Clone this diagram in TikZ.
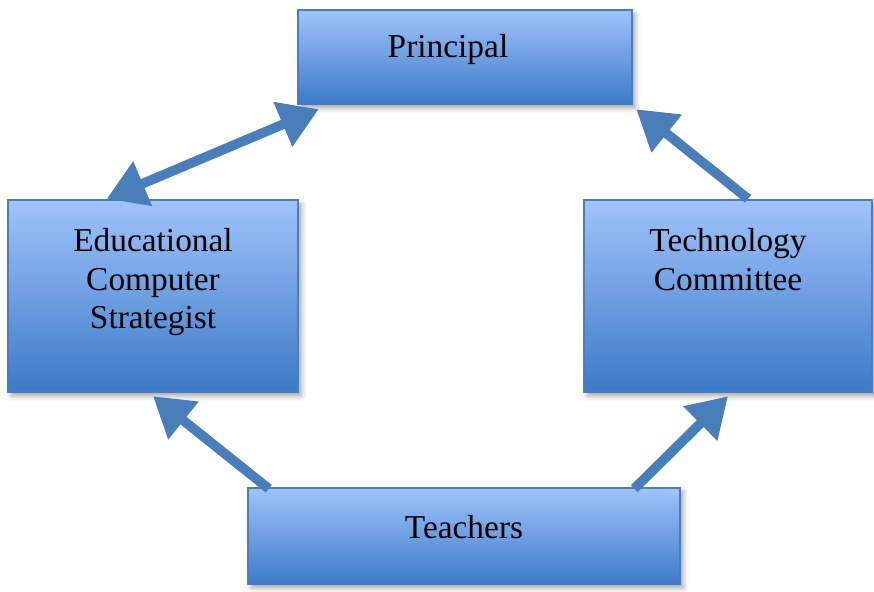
\documentclass[tikz,border=0pt]{standalone}
\usepackage{fontspec}
\setmainfont{Liberation Serif}
\usepackage{tikz}
\usetikzlibrary{arrows.meta,shadows.blur}
\definecolor{boxtop}{RGB}{160,195,250}
\definecolor{boxbot}{RGB}{60,122,200}
\definecolor{boxline}{RGB}{74,126,187}
\definecolor{arrowblue}{RGB}{74,126,187}

\begin{document}
\begin{tikzpicture}[
  box/.style={draw=boxline, line width=1.4pt, top color=boxtop, bottom color=boxbot,
    minimum width=#1, inner sep=0pt,
    blur shadow={shadow xshift=0.07cm, shadow yshift=-0.08cm, shadow blur radius=0.1cm, shadow opacity=35}},
  txt/.style={anchor=base, align=center, inner sep=0pt, font=\fontsize{19}{21.9}\selectfont},
  conn/.style={arrowblue, line width=5.5pt, -{Triangle[length=0.78cm,width=0.92cm]}},
  biconn/.style={arrowblue, line width=5.5pt, {Triangle[length=0.78cm,width=0.92cm]}-{Triangle[length=0.78cm,width=0.92cm]}}
]
\useasboundingbox (0,0) rectangle (17.48,11.84);

% boxes
\node[box=6.68cm, minimum height=1.88cm] (principal) at (9.30,10.70) {};
\node[box=5.80cm, minimum height=3.84cm] (ecs) at (3.06,5.92) {};
\node[box=5.76cm, minimum height=3.84cm] (tc) at (14.56,5.92) {};
\node[box=8.64cm, minimum height=1.92cm] (teachers) at (9.28,1.12) {};

% labels (base sits on the last line)
\node[txt] (principaltxt) at ([xshift=-0.34cm, yshift=-0.98cm]principal.north) {Principal};
\node[txt] (ecstxt) at ([yshift=-2.60cm]ecs.north) {Educational\\Computer\\Strategist};
\node[txt] (tctxt) at ([yshift=-1.83cm]tc.north) {Technology\\Committee};
\node[txt] (teacherstxt) at ([yshift=-1.04cm]teachers.north) {Teachers};

% arrows
\draw[biconn] ([xshift=2.0cm]ecs.north west) -- ([xshift=0.44cm, yshift=-0.08cm]principal.south west);
\draw[conn] ([xshift=0.40cm]tc.north) -- ([xshift=0.06cm, yshift=-0.08cm]principal.south east);
\draw[conn] ([xshift=0.44cm, yshift=-0.04cm]teachers.north west) -- ([yshift=-0.06cm]ecs.south);
\draw[conn] ([xshift=-0.94cm, yshift=-0.04cm]teachers.north east) -- ([yshift=-0.06cm]tc.south);
\end{tikzpicture}
\end{document}
